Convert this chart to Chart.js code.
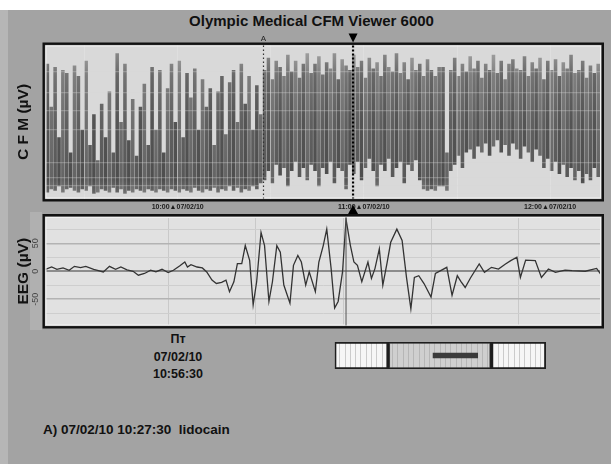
<!DOCTYPE html>
<html>
<head>
<meta charset="utf-8">
<script src="https://cdn.jsdelivr.net/npm/chart.js@4.4.1/dist/chart.umd.min.js"></script>
<style>
  body { margin: 0; width: 611px; height: 464px; overflow: hidden; background: #fff;
         font-family: "Liberation Sans", Arial, sans-serif; position: relative; }
  #panel { position: absolute; left: 0; top: 10px; width: 611px; height: 454px; background: #a3a3a3; }
  #edge { position: absolute; left: 0; top: 10px; width: 8px; height: 454px; background: #b6b6b6; }
  #eegStrip { position: absolute; left: 30px; top: 212px; width: 12px; height: 118px; background: #b0b0b0; }
  canvas { position: absolute; }
  #cfmChart { left: 0; top: 0; width: 611px; height: 214px; }
  #eegChart { left: 0; top: 214px; width: 611px; height: 116px; }
  #navChart { left: 330px; top: 336px; width: 222px; height: 40px; }
  #title { position: absolute; left: 0; width: 623px; top: 12px; line-height: 18px; text-align: center;
           font-weight: bold; font-size: 15px; color: #111; }
  #day { position: absolute; left: 128px; width: 100px; top: 331px; text-align: center;
         font-weight: bold; font-size: 12.5px; line-height: 17.5px; color: #111; }
  #note { position: absolute; left: 43px; top: 421px; line-height: 18px; white-space: pre;
          font-weight: bold; font-size: 13.5px; color: #111; }
</style>
</head>
<body>
<div id="panel"></div>
<div id="edge"></div>
<div id="eegStrip"></div>
<div id="title">Olympic Medical CFM Viewer 6000</div>
<canvas id="cfmChart" width="611" height="214"></canvas>
<canvas id="eegChart" width="611" height="116"></canvas>
<div id="day"><div>Пт</div><div>07/02/10</div><div>10:56:30</div></div>
<canvas id="navChart" width="222" height="40"></canvas>
<div id="note">A) 07/02/10 10:27:30  lidocain</div>

<script>
// CFM trend: one column every 1.25 min, minutes counted from 10:00
const cfmStart = -42;
const cfmStep = 1.25;
const cfmHigh = [
    88, 60, 86, 40, 84, 82, 30, 87, 80, 45,
    90, 35, 55, 25, 62, 40, 70, 30, 95, 50,
    88, 38, 65, 28, 60, 75, 35, 86, 45, 84,
    30, 72, 88, 50, 90, 40, 82, 66, 85, 45,
    78, 60, 72, 35, 70, 80, 42, 76, 84, 50,
    88, 62, 80, 45, 74, 55, 84, 92, 78, 90,
    86, 80, 94, 83, 90, 79, 88, 95, 82, 88,
    93, 81, 89, 85, 95, 78, 91, 87, 84, 94,
    86, 90, 79, 92, 85, 89, 80, 94, 86, 83,
    95, 82, 89, 78, 92, 84, 88, 80, 91, 84,
    80, 86, 86, 30, 84, 92, 80, 88, 83, 93,
    85, 90, 79, 88, 84, 94, 82, 90, 78, 88,
    91, 85, 84, 93, 80, 89, 85, 92, 78, 90,
    84, 91, 80, 89, 85, 94, 82, 84, 90, 79,
    87, 82, 88
];
const cfmLow = [
    4, 6, 5, 8, 4, 6, 7, 5, 4, 6,
    5, 8, 3, 4, 6, 5, 4, 7, 4, 6,
    3, 5, 4, 6, 5, 4, 6, 5, 4, 6,
    5, 4, 6, 5, 4, 6, 5, 4, 7, 5,
    4, 6, 5, 7, 4, 6, 5, 8, 5, 7,
    4, 6, 5, 8, 6, 10, 12, 18, 10, 22,
    15, 20, 8, 18, 24, 14, 20, 12, 22, 18,
    8, 20, 16, 24, 10, 20, 18, 6, 22, 16,
    24, 12, 20, 26, 18, 8, 22, 18, 26, 14,
    20, 24, 10, 22, 18, 25, 12, 6, 5, 6,
    5, 8, 8, 5, 18, 22, 28, 20, 30, 32,
    26, 34, 30, 36, 28, 34, 38, 30, 35, 28,
    36, 32, 26, 34, 30, 24, 32, 28, 20, 26,
    18, 24, 16, 22, 14, 20, 12, 18, 10, 16,
    12, 20, 14
];
const cfmGridLevels = [3.3, 8.5, 13.7, 23.5, 45, 57.5, 69.3, 83];
const cfmGridMinutes = [-30, 0, 30, 60, 90, 120];
const cfmTickMinutes = [0, 60, 120];
const cfmTickLabels = ['10:00\u25B207/02/10', '11:00\u25B207/02/10', '12:00\u25B207/02/10'];
const markerMinute = 27.5;   // A) 10:27:30
const cursorMinute = 56.5;   // 10:56:30

// EEG epoch at the cursor (seconds, µV)
const eegTime = [
    -0.40, -0.33, -0.27, -0.20, -0.13, -0.07, 0.00, 0.06, 0.15, 0.26,
    0.33, 0.40, 0.46, 0.53, 0.60, 0.66, 0.73, 0.80, 0.86, 0.93,
    1.00, 1.06, 1.13, 1.19, 1.22, 1.26, 1.33, 1.39, 1.44, 1.50,
    1.55, 1.61, 1.66, 1.70, 1.75, 1.79, 1.84, 1.88, 1.93, 1.97,
    2.01, 2.06, 2.10, 2.15, 2.19, 2.24, 2.28, 2.32, 2.39, 2.43,
    2.48, 2.52, 2.57, 2.61, 2.68, 2.72, 2.77, 2.81, 2.86, 2.90,
    2.94, 2.99, 3.03, 3.08, 3.12, 3.16, 3.21, 3.28, 3.32, 3.36,
    3.41, 3.45, 3.50, 3.54, 3.61, 3.67, 3.72, 3.77, 3.81, 3.86,
    3.92, 4.00, 4.05, 4.11, 4.18, 4.24, 4.30, 4.34, 4.39, 4.45,
    4.55, 4.61, 4.69, 4.77, 4.85, 4.91, 4.98, 5.02, 5.08, 5.19,
    5.26, 5.34, 5.42, 5.53, 5.61, 5.76, 5.89, 5.94
];
const eegValue = [
    3.5, 7.6, 3.5, 5.9, 1.8, 8.8, 6.5, 8.8, 3.5, -1.2,
    8.8, 3.5, 7.6, 2.4, 0, -7, -4, 1.8, -1.2, 3.5,
    -2.4, 1.8, 9.4, 16.5, 7.6, 11.8, 7.6, 5.9, -1.2, -15.9,
    -21.8, -20, -15.9, -36.5, -18.8, 13.5, 13.5, 45.9, 19.4, -60,
    -18.8, 69.4, 45.9, -54, -18.8, 45.9, 34, -24.7, -57, 10.6,
    28.2, 16.5, -24.7, -1.2, -36.5, 16.5, 45.9, 75.3, 4.7, -65.9,
    -54, -1.2, 93, 45.9, 16.5, 10.6, -18.8, 16.5, -12.9, 4.7,
    40, -24.7, 16.5, 51.8, 75.3, 55, -11, -67, -11, -8,
    -22, -46, -4, 1, 7, -43, -8, -18, -29, -12,
    13, -2, 7, 4, 13, 19, 25, -11, 20, 19,
    -11, 4, -2, 2, 1, 0, 5, -6
];
const eegGridLevels = [-75, -50, -25, 0, 25, 50, 75];
const eegTickValues = [50, 0, -50];
const eegTickLabels = ['50', '0', '-50'];
const eegCursor = 3.03;

// navigator strip (percent of recording)
const navSections = [[0, 25.4], [25.4, 74.1], [74.1, 100]];
const navSectionColors = ['rgba(255,255,255,0)', 'rgba(150,150,150,0.4)', 'rgba(255,255,255,0)'];
const navWindow = [46.6, 67.7];

Chart.defaults.font.family = '"Liberation Sans", Arial, sans-serif';

const framePlugin = {
    id: 'frame',
    beforeDraw(chart, args, opts) {
        const {ctx, chartArea: a} = chart;
        ctx.save();
        ctx.fillStyle = opts.fill;
        ctx.fillRect(a.left, a.top, a.width, a.height);
        ctx.restore();
    },
    afterDraw(chart, args, opts) {
        if (!opts.border) return;
        const {ctx, chartArea: a} = chart;
        ctx.save();
        ctx.strokeStyle = '#f2f2f2';
        ctx.lineWidth = 1;
        ctx.strokeRect(a.left + 0.5, a.top + 0.5, a.width - 1, a.height - 1);
        ctx.strokeStyle = '#111';
        ctx.lineWidth = 2.4;
        ctx.strokeRect(a.left - 1.8, a.top - 1.8, a.width + 3.6, a.height + 3.6);
        ctx.restore();
    }
};

const cfmMarkers = {
    id: 'cfmMarkers',
    afterDraw(chart) {
        const {ctx, chartArea: a, scales: {x}} = chart;
        ctx.save();
        // marker A (dotted)
        let px = Math.round(x.getPixelForValue(markerMinute)) + 0.5;
        ctx.strokeStyle = '#333';
        ctx.lineWidth = 1.2;
        ctx.setLineDash([1.5, 2.5]);
        ctx.beginPath(); ctx.moveTo(px, a.top); ctx.lineTo(px, a.bottom); ctx.stroke();
        ctx.setLineDash([]);
        ctx.fillStyle = '#222';
        ctx.font = '8px "Liberation Sans"';
        ctx.textAlign = 'center';
        ctx.textBaseline = 'middle';
        ctx.fillText('A', px, a.top - 7);
        // cursor (heavy dotted)
        px = x.getPixelForValue(cursorMinute);
        ctx.strokeStyle = '#000';
        ctx.lineWidth = 2.2;
        ctx.setLineDash([2, 2]);
        ctx.beginPath(); ctx.moveTo(px, a.top); ctx.lineTo(px, a.bottom); ctx.stroke();
        ctx.setLineDash([]);
        ctx.fillStyle = '#000';
        ctx.beginPath();
        ctx.moveTo(px - 4.5, a.top - 12); ctx.lineTo(px + 4.5, a.top - 12); ctx.lineTo(px, a.top - 3);
        ctx.closePath(); ctx.fill();
        ctx.beginPath();
        ctx.moveTo(px - 5, 214); ctx.lineTo(px + 5, 214); ctx.lineTo(px, 205);
        ctx.closePath(); ctx.fill();
        ctx.restore();
    }
};

// three shades of the same vertical gradient, cycled over the columns
const cfmShades = [
    ['#727272', '#4e4e4e', '#545454', '#666666', '#929292'],
    ['#858585', '#646464', '#707070', '#7e7e7e', '#a8a8a8'],
    ['#7b7b7b', '#585858', '#606060', '#737373', '#9e9e9e']
];
const cfmStops = [0, 0.12, 0.5, 0.8, 1];
let cfmFills = null;
function cfmColor(c) {
    const a = c.chart.chartArea;
    if (!a) return '#606060';
    if (!cfmFills) {
        cfmFills = cfmShades.map(shade => {
            const g = c.chart.ctx.createLinearGradient(0, a.bottom, 0, a.top);
            shade.forEach((col, k) => g.addColorStop(cfmStops[k], col));
            return g;
        });
    }
    return cfmFills[c.dataIndex % 3];
}

new Chart('cfmChart', {
    type: 'bar',
    data: {
        datasets: [{
            data: cfmHigh.map((h, i) => ({x: cfmStart + i * cfmStep, y: [cfmLow[i], h]})),
            backgroundColor: cfmColor,
            borderWidth: 0,
            categoryPercentage: 1,
            barPercentage: 0.92
        }]
    },
    options: {
        responsive: false,
        animation: false,
        events: [],
        layout: {padding: {top: 45.5, right: 10, left: 0, bottom: 0}},
        plugins: {legend: {display: false}, tooltip: {enabled: false}, frame: {fill: '#d9d9d9', border: true}},
        scales: {
            x: {
                type: 'linear', min: -42.6, max: 136.4, offset: false,
                afterBuildTicks: s => { s.ticks = cfmGridMinutes.map(v => ({value: v})); },
                afterFit: s => { s.height = 15.5; },
                grid: {color: 'rgba(235,235,235,0.35)', lineWidth: 1, drawTicks: false, offset: false, z: 1},
                border: {display: false},
                ticks: {
                    autoSkip: false, maxRotation: 0, padding: 4.5,
                    font: {size: 7, weight: 'bold'}, color: '#1a1a1a',
                    callback: v => {
                        const i = cfmTickMinutes.indexOf(v);
                        return i >= 0 ? cfmTickLabels[i] : '';
                    }
                }
            },
            y: {
                min: 0, max: 100,
                afterBuildTicks: s => { s.ticks = cfmGridLevels.map(v => ({value: v})); },
                afterFit: s => { s.width = 45.5; },
                grid: {color: 'rgba(215,215,215,0.32)', lineWidth: 1.2, drawTicks: false, z: 1},
                border: {display: false},
                ticks: {display: false},
                title: {display: true, text: 'C F M (µV)', color: '#111',
                        font: {size: 15.5, weight: 'bold'}, padding: {top: 14.5, bottom: 0}}
            }
        }
    },
    plugins: [framePlugin, cfmMarkers]
});

const eegMarks = {
    id: 'eegMarks',
    afterDraw(chart) {
        const {ctx, chartArea: a, scales: {x, y}} = chart;
        ctx.save();
        const px = x.getPixelForValue(eegCursor);
        ctx.strokeStyle = '#555';
        ctx.lineWidth = 1;
        ctx.beginPath(); ctx.moveTo(px, a.top); ctx.lineTo(px, a.bottom); ctx.stroke();
        ctx.fillStyle = '#444';
        ctx.font = '9px "Liberation Sans"';
        ctx.textAlign = 'center';
        ctx.textBaseline = 'middle';
        eegTickValues.forEach((v, i) => {
            ctx.save();
            ctx.translate(35.5, y.getPixelForValue(v));
            ctx.rotate(-Math.PI / 2);
            ctx.fillText(eegTickLabels[i], 0, 0);
            ctx.restore();
        });
        ctx.restore();
    }
};

new Chart('eegChart', {
    type: 'line',
    data: {
        datasets: [{
            data: eegTime.map((t, i) => ({x: t, y: eegValue[i]})),
            borderColor: '#333',
            borderWidth: 1.3,
            pointRadius: 0,
            tension: 0
        }]
    },
    options: {
        responsive: false,
        animation: false,
        events: [],
        layout: {padding: {top: 3, right: 10, left: 0, bottom: 4.5}},
        plugins: {legend: {display: false}, tooltip: {enabled: false}, frame: {fill: '#e1e1e1', border: true}},
        scales: {
            x: {
                type: 'linear', min: -0.4, max: 5.94,
                ticks: {display: false, stepSize: 1},
                afterFit: s => { s.height = 0; },
                grid: {color: '#c9c9c9', lineWidth: 1, drawTicks: false},
                border: {display: false}
            },
            y: {
                min: -97, max: 97,
                afterBuildTicks: s => { s.ticks = eegGridLevels.map(v => ({value: v})); },
                afterFit: s => { s.width = 45.5; },
                grid: {
                    drawTicks: false,
                    color: c => c.tick.value === 0 ? '#8c8c8c' : (Math.abs(c.tick.value) === 50 ? '#b3b3b3' : '#cecece'),
                    lineWidth: c => c.tick.value === 0 ? 2 : (Math.abs(c.tick.value) === 50 ? 1.5 : 1)
                },
                border: {display: false},
                ticks: {display: false},
                title: {display: true, text: 'EEG (µV)', color: '#111',
                        font: {size: 15.5, weight: 'bold'}, padding: {top: 14.5, bottom: 0}}
            }
        }
    },
    plugins: [framePlugin, eegMarks]
});

new Chart('navChart', {
    type: 'bar',
    data: {
        labels: [''],
        datasets: [{
            data: [navWindow],
            backgroundColor: '#3a3a3a',
            borderWidth: 0,
            grouped: false,
            barThickness: 5,
            order: 0
        }].concat(navSections.map((s, i) => ({
            data: [s],
            backgroundColor: navSectionColors[i],
            borderColor: '#1e1e1e',
            borderWidth: 1.5,
            borderSkipped: false,
            grouped: false,
            categoryPercentage: 1,
            barPercentage: 1,
            order: 1
        })))
    },
    options: {
        indexAxis: 'y',
        responsive: false,
        animation: false,
        events: [],
        layout: {padding: {top: 6, right: 6, left: 4.5, bottom: 7}},
        plugins: {legend: {display: false}, tooltip: {enabled: false}, frame: {fill: '#f6f6f6', border: false}},
        scales: {
            x: {
                min: 0, max: 100,
                afterBuildTicks: s => {
                    const t = [];
                    for (let v = 2.5; v < 100; v += 2.5) t.push({value: v});
                    s.ticks = t;
                },
                ticks: {display: false},
                afterFit: s => { s.height = 0; },
                grid: {color: 'rgba(140,140,140,0.4)', lineWidth: 1, drawTicks: false},
                border: {display: false}
            },
            y: {display: false}
        }
    },
    plugins: [framePlugin]
});
</script>
</body>
</html>
